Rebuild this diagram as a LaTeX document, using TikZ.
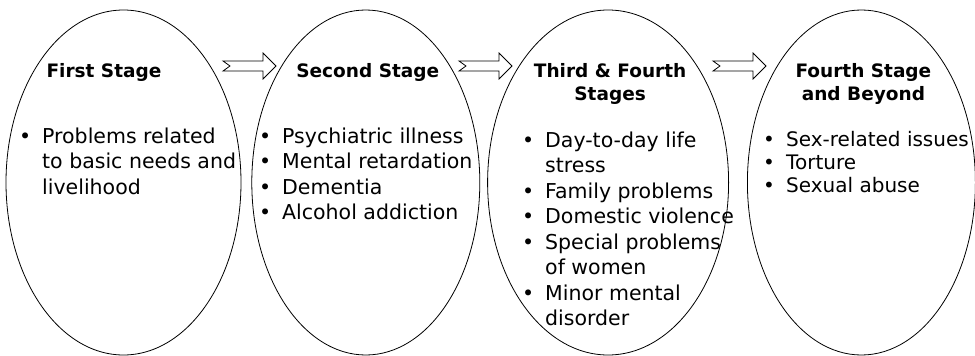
\documentclass[tikz,border=0pt]{standalone}
\usepackage{fontspec}
\setmainfont{DejaVu Sans}
\usepackage{xcolor}
\usepackage{tikz}
\usetikzlibrary{positioning,shapes.geometric}
\newcommand{\bul}{\makebox[23pt][l]{\textbullet}}
\newcommand{\cont}{\hspace*{23pt}}

\begin{document}
\begin{tikzpicture}[x=1pt,y=-1pt,
  stage/.style={draw,ellipse,line width=0.8pt,inner sep=0pt,minimum height=345pt},
  stagetitle/.style={font=\fontsize{18.5}{23}\selectfont\bfseries,align=center,inner sep=0pt,anchor=north},
  stageitems/.style={font=\fontsize{20.5}{25.5}\selectfont,align=left,inner sep=0pt,anchor=north west},
  stagearrow/.pic={\draw[line width=0.8pt,fill=white] (0,-5)--(40,-5)--(40,-13)--(53,0)--(40,13)--(40,5)--(0,5)--(7,0)--cycle;}]
\useasboundingbox (0,0) rectangle (975,356);
\node[stage,minimum width=235pt] (first) at (123.5,182.5) {};
\node[stage,minimum width=228pt,right=10pt of first] (second) {};
\node[stage,minimum width=241pt,right=7pt of second] (third) {};
\node[stage,minimum width=228pt,right=18pt of third] (fourth) {};
\pic at (223,66) {stagearrow};
\pic at (459,66) {stagearrow};
\pic at (713,66) {stagearrow};
\node[stagetitle] (firsttitle) at (104,63) {First Stage};
\node[stagetitle,xshift=2pt] (secondtitle) at (second.north |- 0,63) {Second Stage};
\node[stagetitle,xshift=2pt] (thirdtitle) at (third.north |- 0,63) {Third \& Fourth\\Stages};
\node[stagetitle,xshift=2pt] (fourthtitle) at (fourth.north |- 0,63) {Fourth Stage\\and Beyond};
\node[stageitems] (firstitems) at (19,127.4) {\bul Problems related\\ \cont to basic needs and\\ \cont livelihood};
\node[stageitems] (seconditems) at (259,127.4) {\bul Psychiatric illness\\ \bul Mental retardation\\ \bul Dementia\\ \bul Alcohol addiction};
\node[stageitems] (thirditems) at (522,131.4) {\bul Day-to-day life\\ \cont stress\\ \bul Family problems\\ \bul Domestic violence\\ \bul Special problems\\ \cont of women\\ \bul Minor mental\\ \cont disorder};
\node[stageitems,font=\fontsize{20}{23}\selectfont] (fourthitems) at (763,131.6) {\bul Sex-related issues\\ \bul Torture\\ \bul Sexual abuse};
\end{tikzpicture}
\end{document}
